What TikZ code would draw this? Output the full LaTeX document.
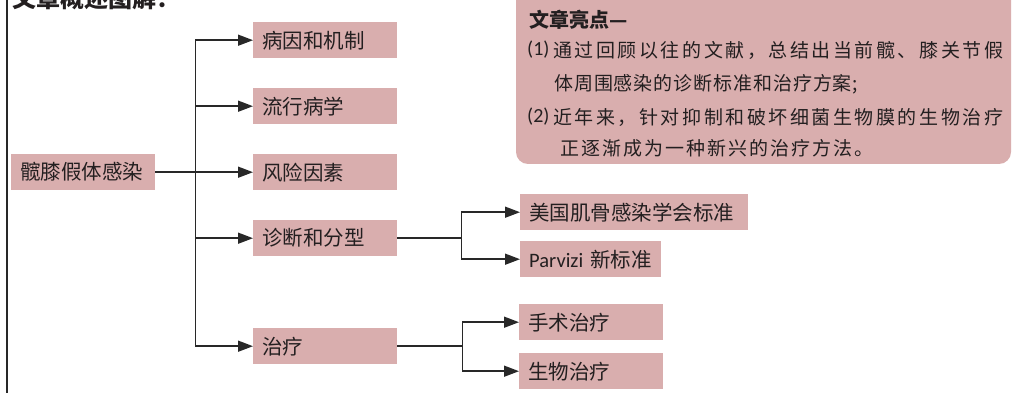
\documentclass[tikz,border=0pt]{standalone}
\usepackage{fontspec}
\setmainfont{Carlito}
\newfontfamily\cjk{Noto Sans CJK SC}
\usetikzlibrary{arrows.meta}
\definecolor{boxpink}{RGB}{217,174,174}
\definecolor{ink}{RGB}{35,31,32}
\definecolor{linec}{RGB}{40,40,40}
\newcommand\jline[2]{{\spaceskip=0pt plus 1fil\xspaceskip=0pt plus 1fil\makebox[#1][s]{#2}}}
\begin{document}
\begin{tikzpicture}[x=1pt,y=-1pt,
  box/.style={fill=boxpink, text=ink, font=\cjk\fontsize{20.5}{24}\selectfont,
    anchor=north west, minimum height=36pt, inner xsep=9pt, inner ysep=0pt, align=left},
  link/.style={draw=linec, line width=1.5pt},
  arr/.style={link, -{Triangle[length=15pt,width=11pt]}},
  hltext/.style={anchor=west, inner sep=0pt, text=ink, font=\cjk\fontsize{19}{23}\selectfont},
  hlnum/.style={anchor=west, inner sep=0pt, text=ink, font=\rmfamily\fontsize{20}{24}\selectfont},
]
\path[use as bounding box, fill=white] (0,0) rectangle (1013,393);

% left rule and title
\draw[link] (7,-5) -- (7,398);
\node[anchor=base west, inner sep=0pt, text=ink, font=\cjk\bfseries\fontsize{24}{28}\selectfont] (title) at (12,8) {文章概述图解：};

% highlights box
\fill[boxpink, rounded corners=12pt] (516,-20) rectangle (1011,164);
\node[anchor=west, inner sep=0pt, text=ink, font=\cjk\bfseries\fontsize{20}{24}\selectfont] (hlt) at (529,20) {文章亮点—};
\node[hlnum] (p1) at (527,50) {(1)};
\node[hltext] (l1) at (553,50) {\jline{450pt}{通 过 回 顾 以 往 的 文 献 ， 总 结 出 当 前 髋 、 膝 关 节 假}};
\node[hltext] (l2) at (554,84) {\jline{304pt}{体 周 围 感 染 的 诊 断 标 准 和 治 疗 方 案 ;}};
\node[hlnum] (p2) at (527,117) {(2)};
\node[hltext] (l3) at (553,117) {\jline{450pt}{近 年 来 ， 针 对 抑 制 和 破 坏 细 菌 生 物 膜 的 生 物 治 疗}};
\node[hltext] (l4) at (560,148) {\jline{313pt}{正 逐 渐 成 为 一 种 新 兴 的 治 疗 方 法 。}};

% nodes
\node[box, text width=126pt] (root) at (11,154) {髋膝假体感染};
\node[box, text width=126pt] (n1) at (253,22) {病因和机制};
\node[box, text width=126pt] (n2) at (253,88) {流行病学};
\node[box, text width=126pt] (n3) at (253,154) {风险因素};
\node[box, text width=126pt] (n4) at (253,220) {诊断和分型};
\node[box, text width=126pt] (n5) at (253,328) {治疗};
\node[box, text width=210pt] (s1) at (520,194) {美国肌骨感染学会标准};
\node[box, text width=123pt] (s2) at (520,241) {{\rmfamily Parvizi} 新标准};
\node[box, text width=126pt] (s3) at (519,304) {手术治疗};
\node[box, text width=126pt] (s4) at (519,353) {生物治疗};

% connectors
\draw[arr] (root.east) -- (n3.west);
\draw[arr] (root.east) -- ++(40,0) |- (n1.west);
\draw[arr] (root.east) -- ++(40,0) |- (n2.west);
\draw[arr] (root.east) -- ++(40,0) |- (n4.west);
\draw[arr] (root.east) -- ++(40,0) |- (n5.west);
\draw[arr] (n4.east) -- ++(64,0) |- (s1.west);
\draw[arr] (n4.east) -- ++(64,0) |- (s2.west);
\draw[arr] (n5.east) -- ++(65,0) |- (s3.west);
\draw[arr] (n5.east) -- ++(65,0) |- (s4.west);
\end{tikzpicture}
\end{document}
